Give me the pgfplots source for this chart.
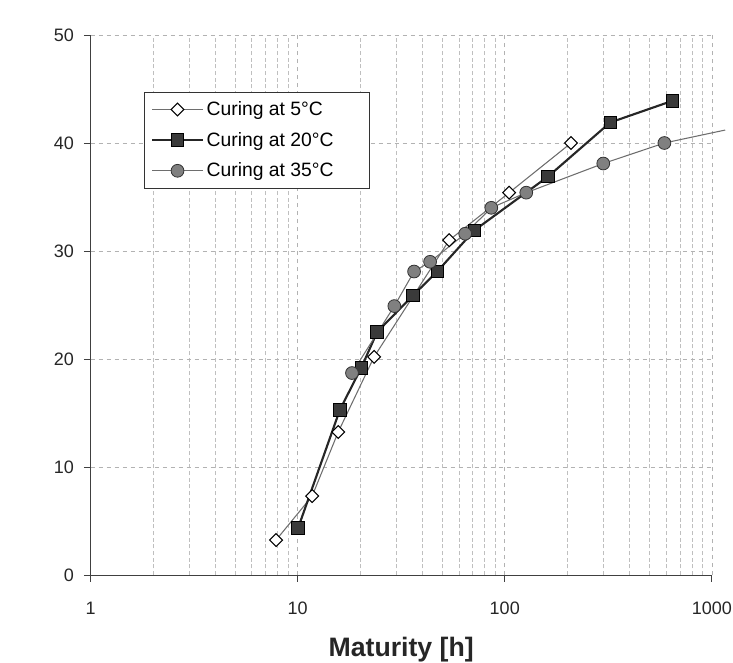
\documentclass[border=0pt]{standalone}
\usepackage{fontspec}
\setmainfont{Liberation Sans}
\usepackage{pgfplots}
\pgfplotsset{compat=1.18}
\definecolor{sqfill}{HTML}{3A3A3A}
\definecolor{cifill}{HTML}{808080}
\definecolor{thinline}{HTML}{6E6E6E}
\begin{document}
\begin{tikzpicture}
\path[use as bounding box] (-67.9pt,-65.25pt) rectangle (481.85pt,431.25pt);
\begin{axis}[
  at={(0,0)}, anchor=south west,
  scale only axis, width=466pt, height=405pt,
  xmode=log, xmin=1, xmax=1000, ymin=0, ymax=50,
  log basis x=10,
  xtick={1,10,100,1000}, xticklabels={1,10,100,1000},
  minor xtick={2,3,4,5,6,7,8,9,20,30,40,50,60,70,80,90,200,300,400,500,600,700,800,900},
  ytick={0,10,20,30,40,50},
  axis lines*=left,
  axis line style={line width=0.6pt, black!75},
  tick align=outside, major tick length=5pt, minor tick length=0pt,
  tick style={black!75, line width=0.6pt},
  xmajorgrids=true, xminorgrids=true, ymajorgrids=true,
  major grid style={gray!60, dashed, line width=0.5pt},
  minor grid style={gray!50, densely dashed, line width=0.4pt},
  tick label style={font=\fontsize{13.5}{16}\selectfont, text=black!85},
  /pgf/number format/assume math mode=true,
  xticklabel style={yshift=-12pt},
  yticklabel style={xshift=-4pt},
  xlabel={\fontsize{20}{24}\selectfont\bfseries Maturity [h]},
  xlabel style={yshift=-10pt, text=black!85},
  clip=false,
  legend style={at={(0.086,0.895)}, anchor=north west, draw=black!80, line width=0.6pt,
    fill=white, font=\fontsize{14.5}{17}\selectfont, row sep=7pt, inner xsep=5pt, inner ysep=5pt},
  legend cell align=left,
  legend image code/.code={\draw[mark repeat=2,mark phase=2] plot coordinates {(0cm,0cm)(0.67cm,0cm)(1.34cm,0cm)};},
]
\addplot[thinline, line width=0.8pt, mark=square*, mark size=3.4pt,
  mark options={fill=white, draw=black, line width=0.8pt, solid, rotate=45}] coordinates {
  (7.87,3.24) (11.75,7.31) (15.7,13.24) (23.4,20.2) (53.9,31.0) (105,35.4) (209,40.0)};
\addlegendentry{Curing at 5°C}
\addplot[black!85, line width=1.6pt, mark=square*, mark size=4.7pt,
  mark options={fill=sqfill, draw=black, line width=0.6pt, solid}] coordinates {
  (10.05,4.35) (16.0,15.3) (20.3,19.2) (24.2,22.5) (36.1,25.9) (47.2,28.1) (71.2,31.9) (162,36.9) (323,41.9) (644,43.9)};
\addlegendentry{Curing at 20°C\hspace*{20pt}}
\addplot[thinline, line width=0.8pt, mark=*, mark size=4.8pt,
  mark options={fill=cifill, draw=black!80, line width=0.6pt, solid}] coordinates {
  (18.3,18.7) (29.3,24.9) (36.5,28.1) (43.6,29.0) (64.4,31.6) (86.1,34.0) (127,35.4) (299,38.1) (590,40.0)};
\addlegendentry{Curing at 35°C}
\addplot[thinline, line width=0.8pt, forget plot] coordinates {(590,40.0) (1160,41.2)};
\end{axis}
\end{tikzpicture}
\end{document}
